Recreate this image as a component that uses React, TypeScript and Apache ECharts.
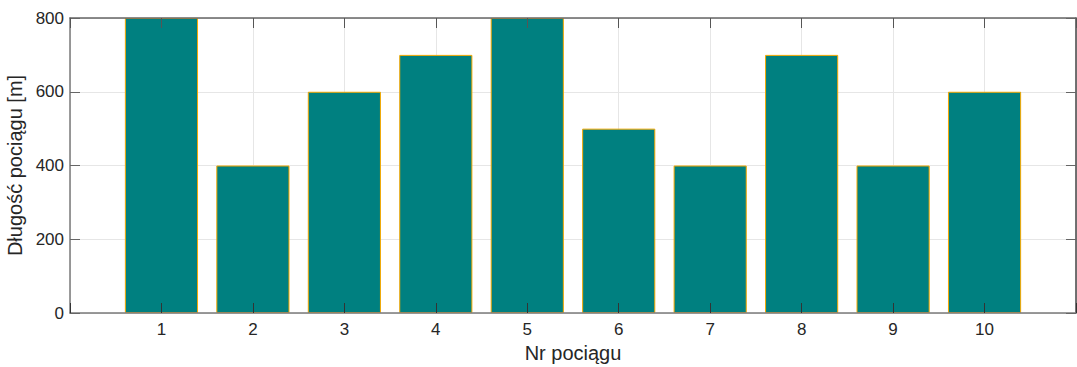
import React, { useEffect, useRef } from "react";
import * as echarts from "echarts";

const trainNumbers = [1, 2, 3, 4, 5, 6, 7, 8, 9, 10];
const trainLengths = [800, 400, 600, 700, 800, 500, 400, 700, 400, 600];
const yTicks = [0, 200, 400, 600, 800];

const FONT = "'Liberation Sans', Arial, Helvetica, sans-serif";

export default function App() {
  const ref = useRef<HTMLDivElement>(null);
  useEffect(() => {
    if (!ref.current) return;
    const chart = echarts.init(ref.current, null, { renderer: "svg" });
    // MATLAB-style x limits: one empty slot on each side (0 and n+1)
    const slots = [0, ...trainNumbers, trainNumbers.length + 1].map(String);
    const values = ["-", ...trainLengths, "-"];
    const yMin = yTicks[0];
    const yMax = yTicks[yTicks.length - 1];
    const yInt = yTicks[1] - yTicks[0];
    const gridLeft = 70;
    const gridRight = 1;
    const plotWidth = 1077 - gridLeft - gridRight;
    const barW = (plotWidth / (slots.length - 1)) * 0.8;
    const labels = trainNumbers.map(String);
    const labelFmt = (v: string) => (labels.includes(v) ? v : "");
    const baseX = { type: "category", data: slots, boundaryGap: false };
    chart.setOption({
      animation: false,
      backgroundColor: "#ffffff",
      grid: { left: gridLeft, right: gridRight, top: 18, bottom: 54, containLabel: false, outerBoundsMode: "none" },
      xAxis: [
        {
          ...baseX, position: "bottom", z: 10,
          name: "Nr pociągu", nameLocation: "middle", nameGap: 29,
          nameTextStyle: { fontFamily: FONT, fontSize: 20, color: "#262626" },
          axisLine: { show: true, lineStyle: { color: "#7a7a7a", width: 1.5 } },
          axisTick: { show: true, inside: true, length: 10, interval: 0, lineStyle: { color: "#333333" } },
          axisLabel: { show: true, interval: 0, margin: 8, formatter: labelFmt, fontFamily: FONT, fontSize: 17, color: "#262626" },
          splitLine: { show: false },
        },
        {
          ...baseX, position: "top", z: 10,
          axisLine: { show: true, onZero: false, lineStyle: { color: "#666666", width: 1.5 } },
          axisTick: { show: true, inside: true, length: 10, interval: 0, lineStyle: { color: "#555555" } },
          axisLabel: { show: false },
          splitLine: { show: false },
        },
        {
          ...baseX, position: "bottom", z: 0,
          axisLine: { show: false }, axisTick: { show: false }, axisLabel: { show: false },
          splitLine: { show: true, interval: 0, lineStyle: { color: "#e6e6e6", width: 1 } },
        },
      ],
      yAxis: [
        {
          type: "value", min: yMin, max: yMax, interval: yInt, position: "left", z: 10,
          name: "Długość pociągu [m]", nameLocation: "middle", nameGap: 40,
          nameTextStyle: { fontFamily: FONT, fontSize: 20, color: "#262626" },
          axisLine: { show: true, lineStyle: { color: "#7a7a7a", width: 1.5 } },
          axisTick: { show: true, inside: true, length: 10, lineStyle: { color: "#666666" } },
          axisLabel: { show: true, margin: 6, fontFamily: FONT, fontSize: 17, color: "#262626" },
          splitLine: { show: false },
        },
        {
          type: "value", min: yMin, max: yMax, interval: yInt, position: "right", z: 10,
          axisLine: { show: true, onZero: false, lineStyle: { color: "#444444", width: 1.5 } },
          axisTick: { show: true, inside: true, length: 10, lineStyle: { color: "#666666" } },
          axisLabel: { show: false },
          splitLine: { show: false },
        },
        {
          type: "value", min: yMin, max: yMax, interval: yInt, position: "left", z: 0,
          axisLine: { show: false }, axisTick: { show: false }, axisLabel: { show: false },
          splitLine: { show: true, lineStyle: { color: "#e6e6e6", width: 1 } },
        },
      ],
      series: [
        {
          type: "bar",
          xAxisIndex: 0,
          yAxisIndex: 0,
          z: 2,
          barWidth: barW,
          data: values,
          itemStyle: { color: "#008080", borderColor: "#f5a800", borderWidth: 1 },
        },
      ],
    });
    return () => chart.dispose();
  }, []);
  return (
    <div
      ref={ref}
      style={{ position: "fixed", left: 0, top: 0, width: 1077, height: 367, background: "#fff" }}
    />
  );
}
